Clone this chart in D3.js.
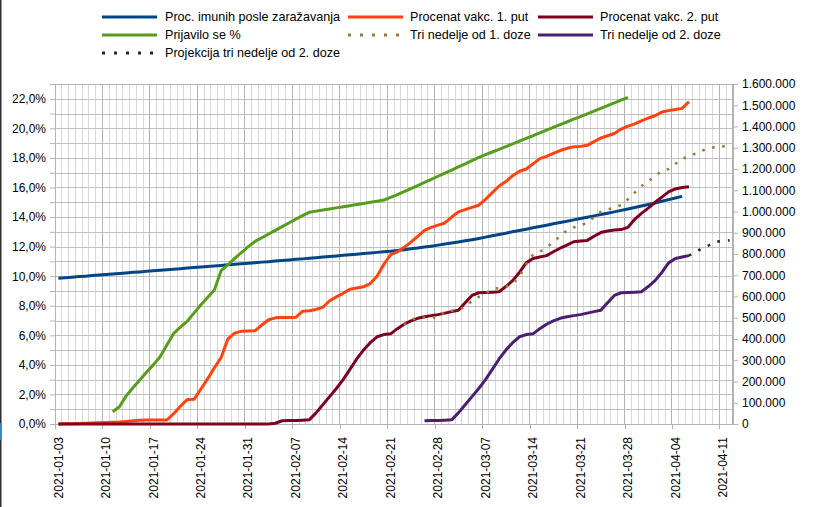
<!DOCTYPE html>
<html><head><meta charset="utf-8">
<script src="https://cdn.jsdelivr.net/npm/d3@7"></script>
<style>
body{margin:0;background:#fff}
text{font-family:"Liberation Sans",Arial,sans-serif;fill:#000}
</style>
</head><body>
<svg id="c" width="817" height="507"></svg>
<script>
// ---------- DATA ----------
const firstDay = "2021-01-03", lastDay = "2021-04-12";
const xTickLabels = ["2021-01-03","2021-01-10","2021-01-17","2021-01-24","2021-01-31","2021-02-07","2021-02-14","2021-02-21","2021-02-28","2021-03-07","2021-03-14","2021-03-21","2021-03-28","2021-04-04","2021-04-11"];
const leftTicks = [0,2,4,6,8,10,12,14,16,18,20,22];
const rightTicks = [0,100000,200000,300000,400000,500000,600000,700000,800000,900000,1000000,1100000,1200000,1300000,1400000,1500000,1600000];

// Proc. imunih posle zaražavanja (%), from 2021-01-03
const immuneStart = "2021-01-03";
const immune = [9.86,9.90,9.93,9.97,10.00,10.04,10.08,10.11,10.15,10.18,
 10.22,10.26,10.29,10.33,10.37,10.40,10.44,10.47,10.51,10.55,
 10.58,10.62,10.66,10.69,10.73,10.77,10.80,10.84,10.88,
 10.91,10.95,10.98,11.02,11.06,11.10,11.14,11.17,11.21,11.25,11.29,11.33,11.37,11.41,11.45,11.49,11.53,11.57,11.61,11.65,11.69,
 11.74,11.79,11.85,11.91,11.97,12.03,12.10,12.17,12.24,12.31,12.39,12.47,12.55,12.64,
 12.73,12.82,12.91,13.00,13.09,13.18,13.27,13.36,13.45,13.54,13.63,13.72,13.81,13.90,13.99,14.08,14.17,14.26,14.35,14.45,14.55,14.65,14.75,14.85,14.95,15.07,15.18,15.29,15.40];

// Procenat vakc. 1. put (%), from 2021-01-03
const dose1Start = "2021-01-03";
const dose1 = [0.00,0.01,0.02,0.03,0.05,0.07,0.09,0.10,0.11,0.13,
 0.17,0.22,0.25,0.27,0.27,0.27,0.27,0.70,1.20,1.65,
 1.67,2.35,3.05,3.80,4.50,5.75,6.15,6.28,6.29,6.30,
 6.70,7.05,7.18,7.20,7.20,7.22,7.62,7.66,7.75,7.90,
 8.34,8.60,8.84,9.12,9.20,9.28,9.50,10.00,10.80,11.45,
 11.65,11.95,12.30,12.70,13.10,13.30,13.45,13.60,14.00,14.35,
 14.50,14.65,14.80,15.20,15.65,16.10,16.40,16.80,17.10,17.25,
 17.60,17.95,18.10,18.30,18.50,18.65,18.75,18.78,18.85,19.10,
 19.35,19.50,19.65,19.95,20.15,20.30,20.50,20.70,20.85,21.10,
 21.20,21.28,21.35,21.80];

// Procenat vakc. 2. put (%), from 2021-01-03
const dose2Start = "2021-01-03";
const dose2 = [0,0,0,0,0,0,0,0,0,0,
 0,0,0,0,0,0,0,0,0,0,
 0,0,0,0,0,0,0,0,0,0,
 0,0,0.05,0.22,0.23,0.24,0.26,0.28,0.75,1.30,
 1.85,2.40,3.00,3.70,4.40,5.00,5.50,5.90,6.05,6.10,
 6.45,6.75,6.98,7.15,7.25,7.33,7.40,7.50,7.60,7.70,
 8.20,8.70,8.88,8.90,8.92,8.95,9.30,9.70,10.25,10.90,
 11.20,11.30,11.39,11.65,11.89,12.10,12.33,12.38,12.42,12.70,
 12.95,13.05,13.12,13.15,13.30,13.85,14.25,14.60,15.00,15.35,
 15.70,15.90,16.00,16.05];

// Prijavilo se % , from 2021-01-11
const signedStart = "2021-01-11";
const signed = [0.83,1.17,1.90,2.45,2.98,3.50,4.00,4.55,5.34,6.13,
 6.55,6.95,7.50,8.05,8.55,9.06,10.37,10.76,11.20,11.60,
 12.00,12.35,12.60,12.85,13.10,13.35,13.60,13.85,14.10,14.32,
 14.40,14.47,14.55,14.62,14.70,14.77,14.85,14.92,15.00,15.07,
 15.15,15.33,15.52,15.72,15.92,16.13,16.34,16.55,16.76,16.97,
 17.18,17.40,17.60,17.82,18.04,18.22,18.40,18.58,18.77,18.95,
 19.13,19.32,19.50,19.70,19.88,20.06,20.25,20.43,20.62,20.80,
 20.98,21.17,21.35,21.54,21.72,21.91,22.10];

// Tri nedelje od 1. doze (%), from 2021-02-23
const three1Start = "2021-02-23";
const three1 = [6.70,7.05,7.18,7.20,7.20,7.22,7.62,7.66,7.75,7.90,
 8.34,8.60,8.84,9.12,9.20,9.28,9.50,10.00,10.80,11.45,
 11.65,11.95,12.30,12.70,13.10,13.30,13.45,13.60,14.00,14.35,
 14.50,14.65,14.80,15.20,15.65,16.10,16.40,16.80,17.10,17.25,
 17.60,17.95,18.10,18.30,18.50,18.65,18.75,18.78,18.85];

// Tri nedelje od 2. doze (%), from 2021-02-26
const three2Start = "2021-02-26";
const three2 = [0.22,0.23,0.24,0.26,0.28,0.75,1.30,1.85,2.40,3.00,
 3.70,4.40,5.00,5.50,5.90,6.05,6.10,6.45,6.75,6.98,
 7.15,7.25,7.33,7.40,7.50,7.60,7.70,8.20,8.70,8.88,
 8.90,8.92,8.95,9.30,9.70,10.25,10.90,11.20,11.30,11.39];

// Projekcija tri nedelje od 2. doze (%), from 2021-04-06
const projStart = "2021-04-06";
const proj = [11.39,11.65,11.89,12.10,12.33,12.38,12.42];

const seriesNames = ["Proc. imunih posle zaražavanja","Procenat vakc. 1. put","Procenat vakc. 2. put","Prijavilo se %","Tri nedelje od 1. doze","Tri nedelje od 2. doze","Projekcija tri nedelje od 2. doze"];
const seriesColors = ["#004586","#ff420e","#7e0021","#579d1c","#9c7a33","#4b1f6f","#2a2a2a"];

// ---------- CHART ----------
const svg = d3.select("#c");
const P = {l:55, r:733, t:84, b:424};
const parse = d3.utcParse("%Y-%m-%d"), fmt = d3.utcFormat("%Y-%m-%d");
const days = d3.utcDay.range(parse(firstDay), d3.utcDay.offset(parse(lastDay),1)).map(fmt);
const x = d3.scaleBand().domain(days).range([P.l, P.r]).padding(0);
const cx = d => x(d) + x.bandwidth()/2;
const yL = d3.scaleLinear().domain([0,23]).range([P.b, P.t]);
const yR = d3.scaleLinear().domain([0,1600000]).range([P.b, P.t]);

svg.append("rect").attr("width",817).attr("height",507).attr("fill","#fff");

// grid
const g = svg.append("g");
days.forEach((d,i)=>{ if(i>0) g.append("line").attr("x1",x(d)).attr("x2",x(d)).attr("y1",P.t).attr("y2",P.b)
  .attr("stroke", i%7===0 ? "#b3b3b3" : "#d8d8d8").attr("stroke-width",1).attr("shape-rendering","crispEdges"); });
d3.range(1,23).forEach(v=>{ g.append("line").attr("x1",P.l).attr("x2",P.r).attr("y1",Math.round(yL(v))+0.5).attr("y2",Math.round(yL(v))+0.5)
  .attr("stroke","#c0c0c0").attr("stroke-width",1); });
// frame
svg.append("rect").attr("x",P.l+0.5).attr("y",P.t+0.5).attr("width",P.r-P.l-1).attr("height",P.b-P.t)
  .attr("fill","none").attr("stroke","#b3b3b3");

// axes
const ax = svg.append("g").attr("transform",`translate(${P.l},0)`)
  .call(d3.axisLeft(yL).tickValues(d3.range(0,23)).tickSize(5)
    .tickFormat(d => leftTicks.includes(d) ? d.toFixed(1).replace(".",",")+"%" : ""));
ax.select(".domain").attr("stroke","#b3b3b3");
ax.selectAll(".tick line").attr("stroke","#b3b3b3");
ax.selectAll("text").attr("font-size",12).attr("x",-9).style("font-family","Liberation Sans, Arial, sans-serif");

const ar = svg.append("g").attr("transform",`translate(${P.r},0)`)
  .call(d3.axisRight(yR).tickValues(rightTicks).tickSize(5)
    .tickFormat(d => d3.format(",")(d).replace(/,/g,".")));
ar.select(".domain").attr("stroke","#b3b3b3");
ar.selectAll(".tick line").attr("stroke","#b3b3b3");
ar.selectAll("text").attr("font-size",12).attr("x",9).style("font-family","Liberation Sans, Arial, sans-serif");

const xb = svg.append("g").attr("transform",`translate(0,${P.b})`)
  .call(d3.axisBottom(x).tickValues(xTickLabels).tickSize(0));
xb.select(".domain").remove();
xb.selectAll("text").attr("font-size",12).attr("transform","rotate(-90)")
  .attr("text-anchor","end").attr("x",-13).attr("y",0).attr("dy","0.35em")
  .style("font-family","Liberation Sans, Arial, sans-serif");
svg.append("line").attr("x1",P.l).attr("x2",P.r).attr("y1",P.b+0.5).attr("y2",P.b+0.5).attr("stroke","#b3b3b3");
days.forEach((d,i)=>{ if(i%7===0) svg.append("line").attr("x1",Math.round(x(d))+0.5).attr("x2",Math.round(x(d))+0.5)
  .attr("y1",P.b).attr("y2",P.b+5).attr("stroke","#b3b3b3"); });

// series
function pts(start, vals){ const i0 = days.indexOf(start); return vals.map((v,i)=>({d:days[i0+i], v})); }
const line = d3.line().x(p=>cx(p.d)).y(p=>yL(p.v));
const series = [
  {data:pts(immuneStart,immune), c:seriesColors[0], dash:null},
  {data:pts(dose1Start,dose1), c:seriesColors[1], dash:null},
  {data:pts(dose2Start,dose2), c:seriesColors[2], dash:null},
  {data:pts(signedStart,signed), c:seriesColors[3], dash:null},
  {data:pts(three1Start,three1), c:seriesColors[4], dash:"2.6,7.6"},
  {data:pts(three2Start,three2), c:seriesColors[5], dash:null},
  {data:pts(projStart,proj), c:seriesColors[6], dash:"2.6,8"}
];
series.forEach(s=>{
  svg.append("path").attr("d",line(s.data)).attr("fill","none").attr("stroke",s.c)
    .attr("stroke-width", s.dash ? 2.6 : 3).attr("stroke-linejoin","round")
    .attr("stroke-dasharray", s.dash);
});

// legend
const legendPos = [[102,165,17],[348,410,17],[538,600,17],[102,165,35],[348,410,35],[538,600,35],[102,165,53]];
seriesNames.forEach((n,i)=>{
  const [lx,tx,ly] = legendPos[i];
  const dotted = (i===4 || i===6);
  svg.append("line").attr("x1",lx).attr("x2",lx+(dotted?52:55)).attr("y1",ly).attr("y2",ly)
    .attr("stroke",seriesColors[i]).attr("stroke-width",3)
    .attr("stroke-dasharray", dotted ? "3,9" : null);
  svg.append("text").attr("x",tx).attr("y",ly).attr("dy","0.35em").attr("font-size",12.6).text(n);
});

// window edge
svg.append("rect").attr("x",0).attr("y",0).attr("width",1.5).attr("height",507).attr("fill","#2e2e2e");
svg.append("rect").attr("x",0).attr("y",423).attr("width",2).attr("height",17).attr("fill","#3d86c6");
</script>
</body></html>
